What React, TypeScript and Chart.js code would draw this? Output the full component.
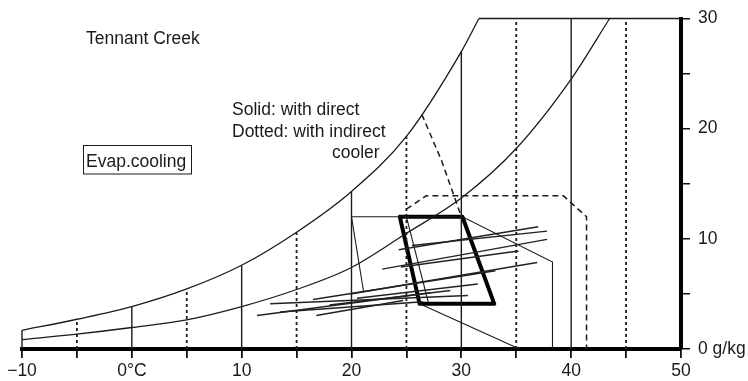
import React, { useEffect, useRef } from "react";
import { Chart, registerables } from "chart.js";

Chart.register(...registerables);

const FONT = '"Liberation Sans", Arial, Helvetica, sans-serif';
const INK = "#1b1b1b";

// ---- axis tick labels ----
const xTickText: Record<string, string> = { "-10": "\u221210", "0": "0°C", "10": "10", "20": "20", "30": "30", "40": "40", "50": "50" };
const yTickText: Record<string, string> = { "0": "0 g/kg", "10": "10", "20": "20", "30": "30" };

// ---- saturation (100% RH) curve ----
const satT = [-10, -5, 0, 5, 10, 15, 20, 25, 30, 31.6];
const satW = [1.7, 2.7, 3.85, 5.45, 7.6, 10.6, 14.3, 19.3, 27.0, 30];

// ---- 50% RH curve ----
const halfT = [-10, -5, 0, 5, 10, 15, 20, 25, 30, 35, 40, 43.5];
const halfW = [0.85, 1.35, 1.95, 2.65, 3.85, 5.4, 7.4, 10.5, 13.7, 18.2, 24.5, 30];

// ---- isotherms ----
const solidIsoT = [-10, 0, 10, 20, 30, 40];
const solidIsoTop = [1.7, 3.85, 7.6, 14.3, 27.0, 30];
const dottedIsoT = [-5, 5, 15, 25, 35, 45];
const dottedIsoTop = [2.7, 5.45, 10.6, 19.3, 30, 30];

// ---- top limit line (30 g/kg) ----
const topT = [31.6, 50];
const topW = [30, 30];

// ---- comfort zone (thick) ----
const zoneT = [24.4, 30.1, 33.0, 26.2, 24.4];
const zoneW = [12.0, 12.0, 4.1, 4.1, 12.0];

// ---- direct evaporative cooling limits (thin solid) ----
const directT = [20, 30.1, 38.3, 38.3];
const directW = [12, 12, 7.9, 0];
const directLeftT = [20, 21.1];
const directLeftW = [12, 5.2];
const directInnerT = [25.0, 27.0];
const directInnerW = [12, 4.2];
const directLowT = [26.2, 35.3];
const directLowW = [4.1, 0];

// ---- indirect evaporative cooling limits (dashed) ----
const indirectT = [25.0, 26.8, 39.3, 41.4, 41.4];
const indirectW = [12.7, 13.9, 13.9, 12.0, 0];
const indirectDiagT = [26.4, 28.2, 29.9];
const indirectDiagW = [21.3, 17.1, 12.3];

// ---- monthly climate lines (min -> max) ----
const monthT1 = [24.3, 25.5, 22.8, 24.5, 19.9, 16.5, 12.6, 11.4, 16.8, 13.5, 20.5, 18.0];
const monthW1 = [9.0, 9.4, 7.25, 7.45, 5.0, 4.5, 4.1, 3.05, 3.05, 3.35, 4.6, 4.0];
const monthT2 = [37.0, 37.8, 37.8, 35.2, 36.9, 33.1, 30.6, 27.2, 24.7, 26.5, 31.5, 29.0];
const monthW2 = [11.1, 10.7, 9.95, 8.9, 7.85, 7.1, 4.85, 5.1, 4.4, 4.3, 5.9, 5.3];

const seg = (xs: number[], ys: number[], opts: any = {}) => ({
  data: xs.map((x, i) => ({ x, y: ys[i] })),
  showLine: true,
  pointRadius: 0,
  pointHoverRadius: 0,
  borderColor: INK,
  backgroundColor: INK,
  borderWidth: 1.2,
  fill: false,
  clip: false,
  tension: 0,
  ...opts,
});

const textPlugin = {
  id: "textNotes",
  afterDraw(chart: any) {
    const ctx = chart.ctx;
    ctx.save();
    ctx.fillStyle = "#1a1a1a";
    ctx.font = `17.5px ${FONT}`;
    ctx.textAlign = "left";
    ctx.textBaseline = "alphabetic";
    ctx.fillText("Tennant Creek", 86, 43.5);
    ctx.fillText("Solid: with direct", 232, 115);
    ctx.fillText("Dotted: with indirect", 232, 136.7);
    ctx.fillText("cooler", 332, 158.3);
    ctx.fillText("Evap.cooling", 86, 166.7);
    ctx.strokeStyle = "#1a1a1a";
    ctx.lineWidth = 1;
    ctx.strokeRect(83.5, 145.5, 108, 28.5);
    ctx.restore();
  },
};

export default function App() {
  const ref = useRef<HTMLCanvasElement | null>(null);

  useEffect(() => {
    if (!ref.current) return;
    const datasets: any[] = [];
    datasets.push(seg(satT, satW, { cubicInterpolationMode: "monotone", borderWidth: 1.3 }));
    datasets.push(seg(halfT, halfW, { cubicInterpolationMode: "monotone", borderWidth: 1.3 }));
    solidIsoT.forEach((t, i) => datasets.push(seg([t, t], [0, solidIsoTop[i]], { borderWidth: 1.4 })));
    dottedIsoT.forEach((t, i) =>
      datasets.push(seg([t, t], [0, dottedIsoTop[i]], { borderWidth: 1.8, borderDash: [3, 3] }))
    );
    datasets.push(seg(topT, topW, { borderWidth: 1.6 }));
    datasets.push(seg(directT, directW, { borderWidth: 1.1 }));
    datasets.push(seg(directLeftT, directLeftW, { borderWidth: 1.1 }));
    datasets.push(seg(directInnerT, directInnerW, { borderWidth: 1.1 }));
    datasets.push(seg(directLowT, directLowW, { borderWidth: 1.1 }));
    datasets.push(seg(indirectT, indirectW, { borderWidth: 1.5, borderDash: [6, 4] }));
    datasets.push(seg(indirectDiagT, indirectDiagW, { borderWidth: 1.5, borderDash: [6, 4] }));
    monthT1.forEach((t, i) =>
      datasets.push(seg([t, monthT2[i]], [monthW1[i], monthW2[i]], { borderWidth: 1.5, borderColor: "#222" }))
    );
    datasets.push(seg(zoneT, zoneW, { borderWidth: 4, borderColor: "#000", borderJoinStyle: "round", borderCapStyle: "round" }));

    const chart = new Chart(ref.current, {
      type: "scatter",
      data: { datasets },
      plugins: [textPlugin],
      options: {
        animation: false,
        responsive: false,
        devicePixelRatio: 1,
        layout: { padding: { left: 22, top: 15, right: 0, bottom: 0 } },
        plugins: { legend: { display: false }, tooltip: { enabled: false } },
        scales: {
          x: {
            type: "linear",
            position: "bottom",
            min: -10,
            max: 50,
            afterFit: (s: any) => {
              s.height = 32;
            },
            ticks: {
              stepSize: 5,
              autoSkip: false,
              maxRotation: 0,
              color: "#1a1a1a",
              padding: 3,
              font: { size: 17.5, family: FONT },
              callback: (v: any) => xTickText[String(v)] ?? "",
            },
            grid: { drawOnChartArea: false, drawTicks: true, tickLength: 9, color: "#111", lineWidth: 1.8 },
            border: { display: true, color: "#000", width: 4 },
          },
          y: {
            type: "linear",
            position: "right",
            min: 0,
            max: 30,
            afterFit: (s: any) => {
              s.width = 67;
            },
            ticks: {
              stepSize: 5,
              autoSkip: false,
              color: "#1a1a1a",
              padding: 8,
              font: { size: 17.5, family: FONT },
              callback: (v: any) => yTickText[String(v)] ?? "",
            },
            grid: { drawOnChartArea: false, drawTicks: true, tickLength: 9, color: "#111", lineWidth: 1.5 },
            border: { display: true, color: "#000", width: 4 },
          },
        },
      },
    });
    return () => chart.destroy();
  }, []);

  return (
    <div style={{ position: "fixed", left: 0, top: 0, width: 748, height: 381, background: "#fff" }}>
      <canvas ref={ref} width={748} height={381} />
    </div>
  );
}
